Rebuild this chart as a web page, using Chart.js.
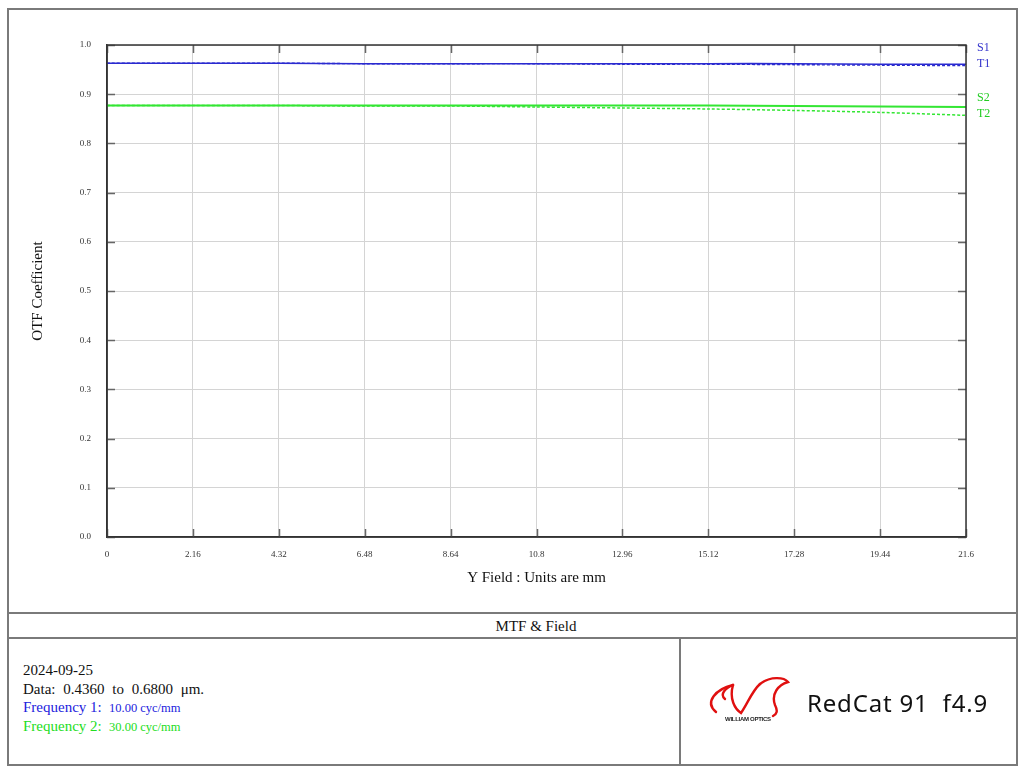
<!DOCTYPE html>
<html><head><meta charset="utf-8">
<script src="https://cdn.jsdelivr.net/npm/chart.js@4.4.1/dist/chart.umd.min.js"></script>
<style>
html,body{margin:0;padding:0;background:#fff;}
body{width:1024px;height:772px;position:relative;overflow:hidden;font-family:"Liberation Serif",serif;color:#111;}
.abs{position:absolute;white-space:pre;line-height:1;}
.ln{position:absolute;background:#7a7a7a;}
#c{position:absolute;left:0;top:0;}
</style></head><body>
<!-- outer frame and dividers -->
<div class="ln" style="left:7px;top:8px;width:1011px;height:2px;"></div>
<div class="ln" style="left:7px;top:764px;width:1011px;height:2px;"></div>
<div class="ln" style="left:7px;top:8px;width:2px;height:758px;"></div>
<div class="ln" style="left:1016px;top:8px;width:2px;height:758px;"></div>
<div class="ln" style="left:7px;top:612px;width:1011px;height:2px;"></div>
<div class="ln" style="left:7px;top:637px;width:1011px;height:2px;"></div>
<div class="ln" style="left:679px;top:637px;width:2px;height:129px;"></div>

<canvas id="c" width="1024" height="600" style="width:1024px;height:600px;"></canvas>

<!-- series labels -->
<div class="abs" style="left:977px;top:41px;font-size:12px;color:#3333cc;">S1</div>
<div class="abs" style="left:977px;top:57px;font-size:12px;color:#3333cc;">T1</div>
<div class="abs" style="left:977px;top:91px;font-size:12px;color:#22cc22;">S2</div>
<div class="abs" style="left:977px;top:107px;font-size:12px;color:#22cc22;">T2</div>

<div class="abs" style="left:536px;top:626px;transform:translate(-50%,-50%);font-size:15px;">MTF &amp; Field</div>

<div class="abs" style="left:23px;top:663px;font-size:15px;">2024-09-25</div>
<div class="abs" style="left:23px;top:682px;font-size:15px;word-spacing:4px;">Data: 0.4360 to 0.6800 μm.</div>
<div class="abs" style="left:23px;top:700px;font-size:15px;color:#2222dd;">Frequency 1:</div>
<div class="abs" style="left:109px;top:702px;font-size:12.5px;color:#2222dd;">10.00 cyc/mm</div>
<div class="abs" style="left:23px;top:719px;font-size:15px;color:#22dd22;">Frequency 2:</div>
<div class="abs" style="left:109px;top:721px;font-size:12.5px;color:#22dd22;">30.00 cyc/mm</div>

<svg style="position:absolute;left:0;top:0;" width="1024" height="772" viewBox="0 0 1024 772">
  <g fill="none" stroke="#e01010" stroke-width="2.4" stroke-linecap="round">
    <path d="M 716 712 C 704 702, 716 689, 733 685"/>
    <path d="M 733 685 C 726 688, 719 694, 725 699"/>
    <path d="M 733 685 C 729 699, 735 709, 741 713 C 748 703, 752 691, 760 684"/>
    <path d="M 760 684 C 770 676, 784 677, 788 682 C 778 685, 771 694, 775 705 C 778 711, 777 714, 773 716"/>
  </g>
  <text x="748" y="721" font-family="Liberation Sans" font-weight="bold" font-size="6" text-anchor="middle" fill="#222" textLength="46">WILLIAM OPTICS</text>
</svg>
<div id="rc" class="abs" style="left:807px;top:691px;font-family:'Noto Sans',sans-serif;font-size:24px;color:#111;">RedCat 91  f4.9</div>

<script>
const xFieldMm = [0, 2.16, 4.32, 6.48, 8.64, 10.8, 12.96, 15.12, 17.28, 19.44, 21.6];
const xTickLabels = ['0', '2.16', '4.32', '6.48', '8.64', '10.8', '12.96', '15.12', '17.28', '19.44', '21.6'];
const yTickLabels = ['0.0', '0.1', '0.2', '0.3', '0.4', '0.5', '0.6', '0.7', '0.8', '0.9', '1.0'];
const s1 = [0.963, 0.963, 0.963, 0.962, 0.962, 0.962, 0.962, 0.962, 0.962, 0.961, 0.961];
const t1 = [0.963, 0.963, 0.963, 0.962, 0.962, 0.962, 0.961, 0.961, 0.960, 0.959, 0.958];
const s2 = [0.877, 0.877, 0.877, 0.877, 0.877, 0.877, 0.877, 0.877, 0.876, 0.875, 0.874];
const t2 = [0.877, 0.877, 0.877, 0.876, 0.876, 0.874, 0.872, 0.870, 0.867, 0.863, 0.857];

// fit RedCat text width
(function(){
  const el = document.getElementById('rc');
  const target = 181;
  const w = el.getBoundingClientRect().width;
  const n = el.textContent.length;
  el.style.letterSpacing = ((target - w) / n) + 'px';
})();

const BLUE = '#2a2ad0', GREEN = '#33e633';
function pts(arr){ return xFieldMm.map((x, i) => ({x: x, y: arr[i]})); }

const framePlugin = {
  id: 'frame',
  afterDatasetsDraw(chart) {
    const {ctx, chartArea: a, scales: {x, y}} = chart;
    ctx.save();
    ctx.strokeStyle = '#666';
    ctx.lineWidth = 1.5;
    const L = 8;
    ctx.beginPath();
    xFieldMm.forEach(v => {
      const px = Math.round(x.getPixelForValue(v)) + 0.5;
      ctx.moveTo(px, a.top); ctx.lineTo(px, a.top + L);
      ctx.moveTo(px, a.bottom); ctx.lineTo(px, a.bottom - L);
    });
    yTickLabels.forEach(t => {
      const py = Math.round(y.getPixelForValue(parseFloat(t))) + 0.5;
      ctx.moveTo(a.left, py); ctx.lineTo(a.left + L, py);
      ctx.moveTo(a.right, py); ctx.lineTo(a.right - L, py);
    });
    ctx.stroke();
    ctx.strokeStyle = '#333';
    ctx.lineWidth = 1.5;
    ctx.strokeRect(a.left, a.top, a.right - a.left, a.bottom - a.top);
    ctx.restore();
  }
};

new Chart(document.getElementById('c'), {
  type: 'line',
  data: {
    datasets: [
      {label: 'S1', data: pts(s1), borderColor: BLUE, borderWidth: 1.6, pointRadius: 0, tension: 0.3},
      {label: 'T1', data: pts(t1), borderColor: BLUE, borderWidth: 1.4, pointRadius: 0, tension: 0.3, borderDash: [3, 2]},
      {label: 'S2', data: pts(s2), borderColor: GREEN, borderWidth: 2, pointRadius: 0, tension: 0.3},
      {label: 'T2', data: pts(t2), borderColor: GREEN, borderWidth: 1.5, pointRadius: 0, tension: 0.3, borderDash: [3, 2]}
    ]
  },
  options: {
    responsive: false,
    animation: false,
    layout: {padding: {left: 0, top: 45, right: 58, bottom: 0}},
    plugins: {legend: {display: false}, tooltip: {enabled: false}},
    scales: {
      x: {
        type: 'linear', min: 0, max: 21.6,
        afterBuildTicks: s => { s.ticks = xFieldMm.map(v => ({value: v})); },
        afterFit: s => { s.height = 63; },
        ticks: {callback: (v, i) => xTickLabels[i], font: {family: 'Liberation Serif', size: 9}, color: '#333', padding: 12, maxRotation: 0, autoSkip: false},
        grid: {color: '#d4d4d4', lineWidth: 1, drawTicks: false},
        border: {color: '#333', width: 1.5},
        title: {display: true, text: 'Y Field : Units are mm', font: {family: 'Liberation Serif', size: 15}, color: '#111', padding: {top: 0, bottom: 13}}
      },
      y: {
        min: 0, max: 1,
        afterBuildTicks: s => { s.ticks = yTickLabels.map(t => ({value: parseFloat(t)})); },
        afterFit: s => { s.width = 107; },
        ticks: {callback: (v, i) => yTickLabels[i], font: {family: 'Liberation Serif', size: 9}, color: '#333', padding: 16, autoSkip: false},
        grid: {color: '#d4d4d4', lineWidth: 1, drawTicks: false},
        border: {color: '#333', width: 1.5},
        title: {display: true, text: 'OTF Coefficient', font: {family: 'Liberation Serif', size: 15}, color: '#111', padding: {top: 29, bottom: 0}}
      }
    }
  },
  plugins: [framePlugin]
});
</script>
</body></html>
